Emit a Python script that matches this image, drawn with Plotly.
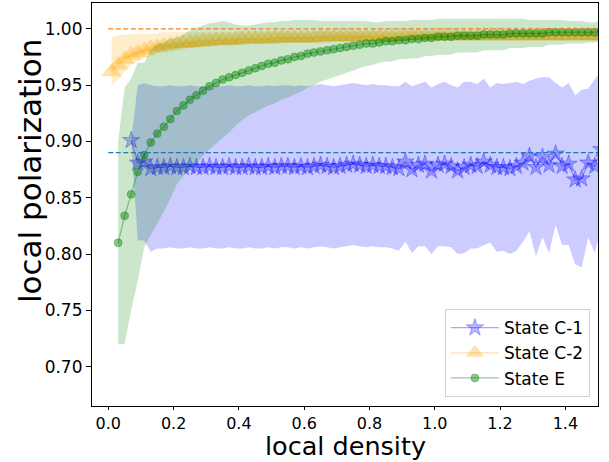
import plotly.graph_objects as go

# bin centres of local density
density = [0.01, 0.03, 0.05, 0.07, 0.09, 0.11, 0.13, 0.15, 0.17, 0.19,
           0.21, 0.23, 0.25, 0.27, 0.29, 0.31, 0.33, 0.35, 0.37, 0.39,
           0.41, 0.43, 0.45, 0.47, 0.49, 0.51, 0.53, 0.55, 0.57, 0.59,
           0.61, 0.63, 0.65, 0.67, 0.69, 0.71, 0.73, 0.75, 0.77, 0.79,
           0.81, 0.83, 0.85, 0.87, 0.89, 0.91, 0.93, 0.95, 0.97, 0.99,
           1.01, 1.03, 1.05, 1.07, 1.09, 1.11, 1.13, 1.15, 1.17, 1.19,
           1.21, 1.23, 1.25, 1.27, 1.29, 1.31, 1.33, 1.35, 1.37, 1.39,
           1.41, 1.43, 1.45, 1.47, 1.49, 1.51]

# State C-1 (starts at 0.07)
c1_mean = [0.901, 0.881, 0.882, 0.876, 0.877, 0.877, 0.878, 0.877, 0.877, 0.878,
           0.877, 0.877, 0.878, 0.877, 0.877, 0.878, 0.877, 0.877, 0.878, 0.877,
           0.877, 0.878, 0.877, 0.878, 0.878, 0.877, 0.878, 0.877, 0.878, 0.879,
           0.878, 0.877, 0.878, 0.879, 0.880, 0.879, 0.878, 0.879, 0.878, 0.878,
           0.877, 0.876, 0.882, 0.875, 0.879, 0.880, 0.874, 0.879, 0.880, 0.878,
           0.874, 0.877, 0.879, 0.878, 0.882, 0.879, 0.877, 0.877, 0.876, 0.878,
           0.881, 0.887, 0.877, 0.886, 0.879, 0.889, 0.878, 0.880, 0.866, 0.867,
           0.881, 0.878, 0.893]
c1_std = [0.000, 0.069, 0.070, 0.074, 0.072, 0.072, 0.072, 0.072, 0.072, 0.072,
          0.072, 0.072, 0.072, 0.072, 0.072, 0.072, 0.072, 0.072, 0.072, 0.072,
          0.072, 0.072, 0.072, 0.072, 0.072, 0.072, 0.072, 0.072, 0.072, 0.072,
          0.072, 0.072, 0.072, 0.072, 0.072, 0.072, 0.072, 0.072, 0.072, 0.072,
          0.072, 0.073, 0.071, 0.074, 0.072, 0.073, 0.074, 0.072, 0.073, 0.072,
          0.074, 0.076, 0.074, 0.073, 0.074, 0.069, 0.075, 0.074, 0.076, 0.075,
          0.070, 0.067, 0.079, 0.071, 0.078, 0.063, 0.070, 0.072, 0.075, 0.079,
          0.066, 0.077, 0.070]

# State C-2 (starts at 0.01)
c2_mean = [0.962, 0.968, 0.973, 0.977, 0.979, 0.981, 0.983, 0.984, 0.985, 0.986,
           0.987, 0.987, 0.988, 0.988, 0.989, 0.989, 0.990, 0.990, 0.990, 0.990,
           0.991, 0.991, 0.991, 0.991, 0.991, 0.992, 0.992, 0.992, 0.992, 0.992,
           0.992, 0.992, 0.993, 0.993, 0.993, 0.993, 0.993, 0.993, 0.993, 0.993,
           0.993, 0.993, 0.993, 0.993, 0.993, 0.994, 0.994, 0.994, 0.994, 0.994,
           0.994, 0.994, 0.994, 0.994, 0.994, 0.994, 0.994, 0.994, 0.994, 0.994,
           0.994, 0.994, 0.994, 0.994, 0.994, 0.994, 0.994, 0.994, 0.994, 0.994,
           0.994, 0.994, 0.994, 0.994, 0.994, 0.994]
c2_low = [0.950, 0.955, 0.962, 0.968, 0.971, 0.974, 0.976, 0.978, 0.979, 0.980,
          0.981, 0.982, 0.983, 0.983, 0.984, 0.984, 0.985, 0.985, 0.985, 0.986,
          0.986, 0.986, 0.987, 0.987, 0.987, 0.987, 0.987, 0.988, 0.988, 0.988,
          0.988, 0.988, 0.988, 0.988, 0.989, 0.989, 0.989, 0.989, 0.989, 0.989,
          0.989, 0.989, 0.989, 0.989, 0.989, 0.990, 0.990, 0.990, 0.990, 0.990,
          0.990, 0.990, 0.990, 0.990, 0.990, 0.990, 0.990, 0.990, 0.990, 0.990,
          0.990, 0.990, 0.990, 0.990, 0.990, 0.990, 0.990, 0.990, 0.990, 0.990,
          0.990, 0.990, 0.990, 0.990, 0.990, 0.990]
c2_high = [0.993, 0.994, 0.995, 0.995, 0.996, 0.996, 0.996, 0.996, 0.997, 0.997,
           0.997, 0.997, 0.997, 0.997, 0.997, 0.997, 0.997, 0.997, 0.997, 0.998,
           0.998, 0.998, 0.998, 0.998, 0.998, 0.998, 0.998, 0.998, 0.998, 0.998,
           0.998, 0.998, 0.998, 0.998, 0.998, 0.998, 0.998, 0.998, 0.998, 0.998,
           0.998, 0.998, 0.998, 0.998, 0.998, 0.998, 0.998, 0.998, 0.998, 0.998,
           0.998, 0.998, 0.998, 0.998, 0.998, 0.998, 0.998, 0.998, 0.998, 0.998,
           0.998, 0.998, 0.998, 0.998, 0.998, 0.998, 0.998, 0.998, 0.998, 0.998,
           0.998, 0.998, 0.998, 0.998, 0.998, 0.998]

# State E (starts at 0.03)
e_mean = [0.810, 0.834, 0.853, 0.873, 0.888, 0.899, 0.907, 0.913, 0.920, 0.927,
          0.932, 0.937, 0.941, 0.945, 0.949, 0.952, 0.955, 0.957, 0.959, 0.961,
          0.963, 0.965, 0.967, 0.969, 0.970, 0.972, 0.973, 0.975, 0.976, 0.978,
          0.979, 0.980, 0.981, 0.982, 0.983, 0.984, 0.985, 0.986, 0.987, 0.987,
          0.988, 0.989, 0.989, 0.990, 0.990, 0.991, 0.991, 0.992, 0.992, 0.993,
          0.993, 0.993, 0.994, 0.994, 0.994, 0.994, 0.995, 0.995, 0.995, 0.995,
          0.996, 0.996, 0.996, 0.996, 0.996, 0.996, 0.997, 0.997, 0.997, 0.997,
          0.997, 0.997, 0.997, 0.997, 0.998]
e_std = [0.090, 0.114, 0.103, 0.097, 0.082, 0.082, 0.080, 0.075, 0.071, 0.065,
         0.063, 0.062, 0.060, 0.058, 0.056, 0.054, 0.052, 0.049, 0.045, 0.042,
         0.040, 0.039, 0.038, 0.037, 0.036, 0.035, 0.034, 0.033, 0.032, 0.030,
         0.029, 0.027, 0.026, 0.025, 0.024, 0.023, 0.022, 0.021, 0.020, 0.019,
         0.018, 0.018, 0.018, 0.017, 0.017, 0.017, 0.017, 0.016, 0.016, 0.016,
         0.016, 0.016, 0.015, 0.015, 0.015, 0.015, 0.014, 0.014, 0.014, 0.014,
         0.013, 0.013, 0.013, 0.012, 0.012, 0.012, 0.011, 0.011, 0.011, 0.010,
         0.010, 0.010, 0.009, 0.009, 0.009]

c1_ref = 0.89
c2_ref = 1.00

x_c1 = density[3:]
x_c2 = density[:]
x_e = density[1:]

FONT = "DejaVu Sans"


def band(x, lo, hi, color):
    return go.Scatter(x=list(x) + list(x)[::-1], y=list(hi) + list(lo)[::-1],
                      fill="toself", fillcolor=color, mode="none",
                      hoverinfo="skip", showlegend=False)


fig = go.Figure()

# State C-1
fig.add_trace(band(x_c1, [m - s for m, s in zip(c1_mean, c1_std)],
                   [m + s for m, s in zip(c1_mean, c1_std)], "rgba(0,0,255,0.2)"))
fig.add_trace(go.Scatter(x=x_c1, y=c1_mean, mode="lines+markers", name="State C-1",
                         line=dict(color="rgba(0,0,255,0.35)", width=1.2),
                         marker=dict(symbol="star", size=13, color="rgba(0,0,255,0.28)",
                                     line=dict(color="rgba(0,0,255,0.3)", width=1))))

# State C-2
fig.add_trace(band(x_c2, c2_low, c2_high, "rgba(255,165,0,0.2)"))
fig.add_trace(go.Scatter(x=x_c2, y=c2_mean, mode="lines+markers", name="State C-2",
                         line=dict(color="rgba(255,165,0,0.35)", width=1.2),
                         marker=dict(symbol="triangle-up", size=18,
                                     color="rgba(255,165,0,0.3)",
                                     line=dict(width=0))))

# State E
fig.add_trace(band(x_e, [m - s for m, s in zip(e_mean, e_std)],
                   [m + s for m, s in zip(e_mean, e_std)], "rgba(0,128,0,0.2)"))
fig.add_trace(go.Scatter(x=x_e, y=e_mean, mode="lines+markers", name="State E",
                         line=dict(color="rgba(0,128,0,0.4)", width=1.2),
                         marker=dict(symbol="circle", size=8, color="rgba(0,128,0,0.45)",
                                     line=dict(color="rgba(0,128,0,0.3)", width=1))))

# reference levels
for level, col in [(c2_ref, "#ff7f0e"), (c1_ref, "#1f77b4")]:
    fig.add_shape(type="line", xref="x", yref="y", x0=0.0, x1=1.5, y0=level, y1=level,
                  line=dict(color=col, width=1.3, dash="5px,2.5px"), layer="above")

fig.update_xaxes(range=[-0.05, 1.5], tickvals=[0, 0.2, 0.4, 0.6, 0.8, 1.0, 1.2, 1.4],
                 ticktext=["0.0", "0.2", "0.4", "0.6", "0.8", "1.0", "1.2", "1.4"],
                 showline=True, mirror=True, linecolor="black", linewidth=1.2,
                 ticks="outside", ticklen=3, tickcolor="black", showgrid=False,
                 zeroline=False, tickfont=dict(family=FONT, size=16, color="black"))
fig.update_yaxes(range=[0.665, 1.023],
                 tickvals=[0.70, 0.75, 0.80, 0.85, 0.90, 0.95, 1.00],
                 ticktext=["0.70", "0.75", "0.80", "0.85", "0.90", "0.95", "1.00"],
                 showline=True, mirror=True, linecolor="black", linewidth=1.2,
                 ticks="outside", ticklen=5, tickcolor="black", showgrid=False,
                 zeroline=False, tickfont=dict(family=FONT, size=17, color="black"))

# axis titles
fig.add_annotation(text="local density", xref="paper", yref="paper",
                   x=0.5, y=-0.1395, xanchor="center", yanchor="bottom", showarrow=False,
                   borderpad=0, font=dict(family=FONT, size=25.5, color="black"))
fig.add_annotation(text="local polarization", xref="paper", yref="paper",
                   x=-0.1225, y=0.583, xanchor="center", yanchor="middle",
                   textangle=-90, showarrow=False,
                   font=dict(family=FONT, size=31, color="black"))

fig.update_layout(width=609, height=462, margin=dict(l=92, r=11, t=3, b=56),
                  paper_bgcolor="white", plot_bgcolor="white",
                  font=dict(family=FONT, color="black"),
                  legend=dict(x=0.984, y=0.022, xanchor="right", yanchor="bottom",
                              bgcolor="rgba(255,255,255,0.8)", bordercolor="#d0d0d0",
                              borderwidth=1, font=dict(family=FONT, size=17),
                              itemwidth=48, tracegroupgap=0))

fig.write_html("out.html")
